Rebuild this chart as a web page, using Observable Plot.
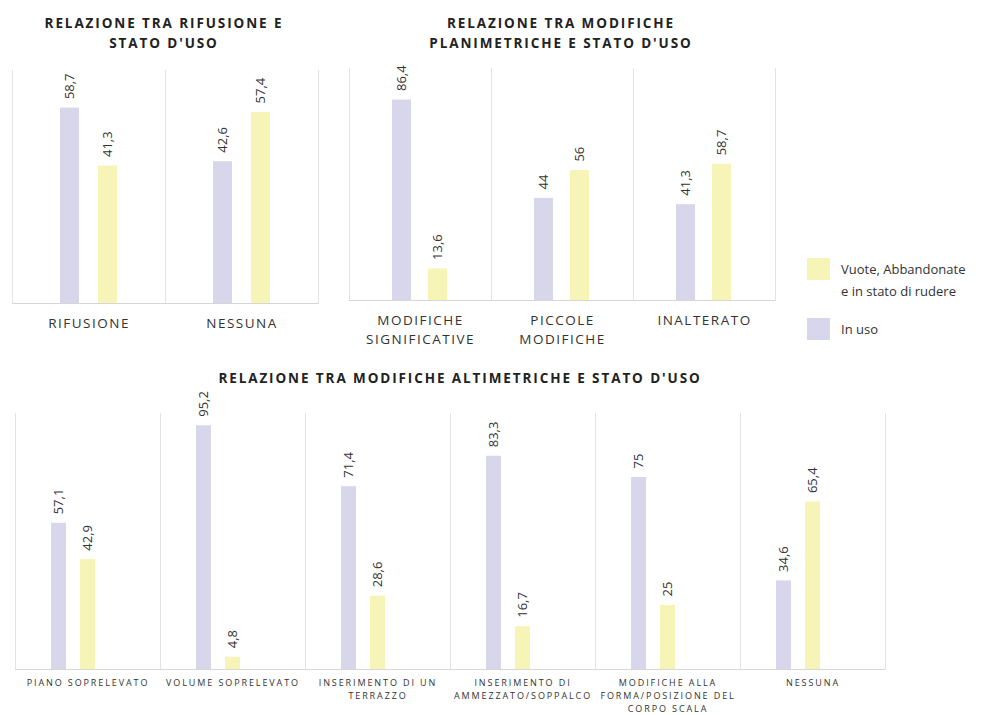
<!DOCTYPE html>
<html>
<head>
<meta charset="utf-8">
<script src="https://cdn.jsdelivr.net/npm/d3@7"></script>
<script src="https://cdn.jsdelivr.net/npm/@observablehq/plot@0.6"></script>
<style>
  body { margin: 0; background: #fff; font-family: "Open Sans", sans-serif; }
  #root { position: relative; width: 983px; height: 715px; overflow: hidden; }
  .panel { position: absolute; }
  .title { position: absolute; text-align: center; font-weight: 700; font-size: 13.5px; letter-spacing: 1.9px; color: #222; line-height: 20px; white-space: nowrap; }
  .legend { position: absolute; left: 807px; font-size: 13px; color: #333; }
  .legend .row { position: absolute; left: 0; white-space: nowrap; }
  .legend .sw { position: absolute; left: 0; width: 23px; height: 22px; }
  .legend .lab { position: absolute; left: 34px; line-height: 22px; }
</style>
</head>
<body>
<div id="root"></div>
<script>
// ---- data ----
const SERIES = ["In uso", "Vuote, Abbandonate e in stato di rudere"];
const COLORS = ["#d8d6ea", "#f6f4b6"];

const title1 = ["RELAZIONE TRA RIFUSIONE E", "STATO D'USO"];
const cats1 = ["RIFUSIONE", "NESSUNA"];
const inUso1 = [58.7, 42.6];
const vuote1 = [41.3, 57.4];

const title2 = ["RELAZIONE TRA MODIFICHE", "PLANIMETRICHE E STATO D'USO"];
const cats2 = ["MODIFICHE\nSIGNIFICATIVE", "PICCOLE\nMODIFICHE", "INALTERATO"];
const inUso2 = [86.4, 44, 41.3];
const vuote2 = [13.6, 56, 58.7];

const title3 = ["RELAZIONE TRA MODIFICHE ALTIMETRICHE E STATO D'USO"];
const cats3 = ["PIANO SOPRELEVATO", "VOLUME SOPRELEVATO", "INSERIMENTO DI UN\nTERRAZZO",
  "INSERIMENTO DI\nAMMEZZATO/SOPPALCO", "MODIFICHE ALLA\nFORMA/POSIZIONE DEL\nCORPO SCALA", "NESSUNA"];
const inUso3 = [57.1, 95.2, 71.4, 83.3, 75, 34.6];
const vuote3 = [42.9, 4.8, 28.6, 16.7, 25, 65.4];

// ---- helpers ----
function rows(cats, a, b) {
  const out = [];
  cats.forEach((c, i) => {
    out.push({cat: c, series: SERIES[0], value: a[i]});
    out.push({cat: c, series: SERIES[1], value: b[i]});
  });
  return out;
}
const fmt = v => String(v).replace(".", ",");

function panel({cats, a, b, width, height, ml, mr, mt, mb, ymax, xDomain, pi, po,
                catSize, catDy, catLH, catSpacing}) {
  const data = rows(cats, a, b);
  const svg = Plot.plot({
    width, height,
    marginLeft: ml, marginRight: mr, marginTop: mt, marginBottom: mb,
    style: {fontFamily: "Open Sans, sans-serif", background: "transparent", overflow: "visible"},
    fx: {domain: cats, axis: null, paddingInner: 0, paddingOuter: 0},
    x: {domain: xDomain, axis: null, paddingInner: pi, paddingOuter: po},
    y: {domain: [0, ymax], axis: null},
    color: {domain: SERIES, range: COLORS},
    marks: [
      Plot.frame({anchor: "left", stroke: "#e3e3e3"}),
      Plot.frame({anchor: "right", stroke: "#e3e3e3"}),
      Plot.ruleY([0], {stroke: "#d6d6d6"}),
      Plot.barY(data, {fx: "cat", x: "series", y: "value", fill: "series"}),
      Plot.text(data, {fx: "cat", x: "series", y: "value", text: d => fmt(d.value),
        rotate: -90, textAnchor: "start", dy: -9, fontSize: 13, fill: "#333"}),
      Plot.text(cats, {fx: d => d, text: d => d, frameAnchor: "bottom", lineAnchor: "top",
        dy: catDy, fontSize: catSize, lineHeight: catLH, fill: "#333"})
    ]
  });
  const flat = new Set(cats.map(c => c.replace(/\n/g, "")));
  svg.querySelectorAll("text").forEach(t => {
    if (flat.has(t.textContent.replace(/\n/g, ""))) t.style.letterSpacing = catSpacing + "px";
  });
  return svg;
}

const root = document.getElementById("root");
function place(el, left, top) {
  const d = document.createElement("div");
  d.className = "panel";
  d.style.left = left + "px"; d.style.top = top + "px";
  d.appendChild(el);
  root.appendChild(d);
}
function addTitle(lines, left, width, top) {
  const t = document.createElement("div");
  t.className = "title";
  t.style.left = left + "px"; t.style.width = width + "px"; t.style.top = top + "px";
  t.innerHTML = lines.join("<br>");
  root.appendChild(t);
}

place(panel({cats: cats1, a: inUso1, b: vuote1, width: 330, height: 350, ml: 11, mr: 12, mt: 70, mb: 47,
  ymax: 70, xDomain: SERIES, pi: 0.49, po: 1.21, catSize: 13.5, catDy: 12, catLH: 1.35, catSpacing: 1.5}), 0, 0);
place(panel({cats: cats2, a: inUso2, b: vuote2, width: 450, height: 350, ml: 8, mr: 15, mt: 68, mb: 50,
  ymax: 100, xDomain: SERIES, pi: 0.46, po: 1.2, catSize: 13.5, catDy: 12, catLH: 1.35, catSpacing: 1.5}), 340, 0);
place(panel({cats: cats3, a: inUso3, b: vuote3, width: 900, height: 355, ml: 13, mr: 13, mt: 53, mb: 46,
  ymax: 100, xDomain: [...SERIES, ""], pi: 0.467, po: 1.16, catSize: 9, catDy: 7, catLH: 1.45, catSpacing: 1.9}), 0, 360);

addTitle(title1, 14, 300, 13);
addTitle(title2, 345, 432, 13);
addTitle(title3, 110, 700, 368);

// legend
const leg = document.createElement("div");
leg.className = "legend";
leg.style.top = "258px";
const items = [
  {color: COLORS[1], label: "Vuote, Abbandonate<br>e in stato di rudere", top: 0},
  {color: COLORS[0], label: SERIES[0], top: 60}
];
items.forEach(it => {
  const r = document.createElement("div");
  r.className = "row"; r.style.top = it.top + "px";
  r.innerHTML = `<div class="sw" style="background:${it.color}"></div><div class="lab">${it.label}</div>`;
  leg.appendChild(r);
});
root.appendChild(leg);
</script>
</body>
</html>
